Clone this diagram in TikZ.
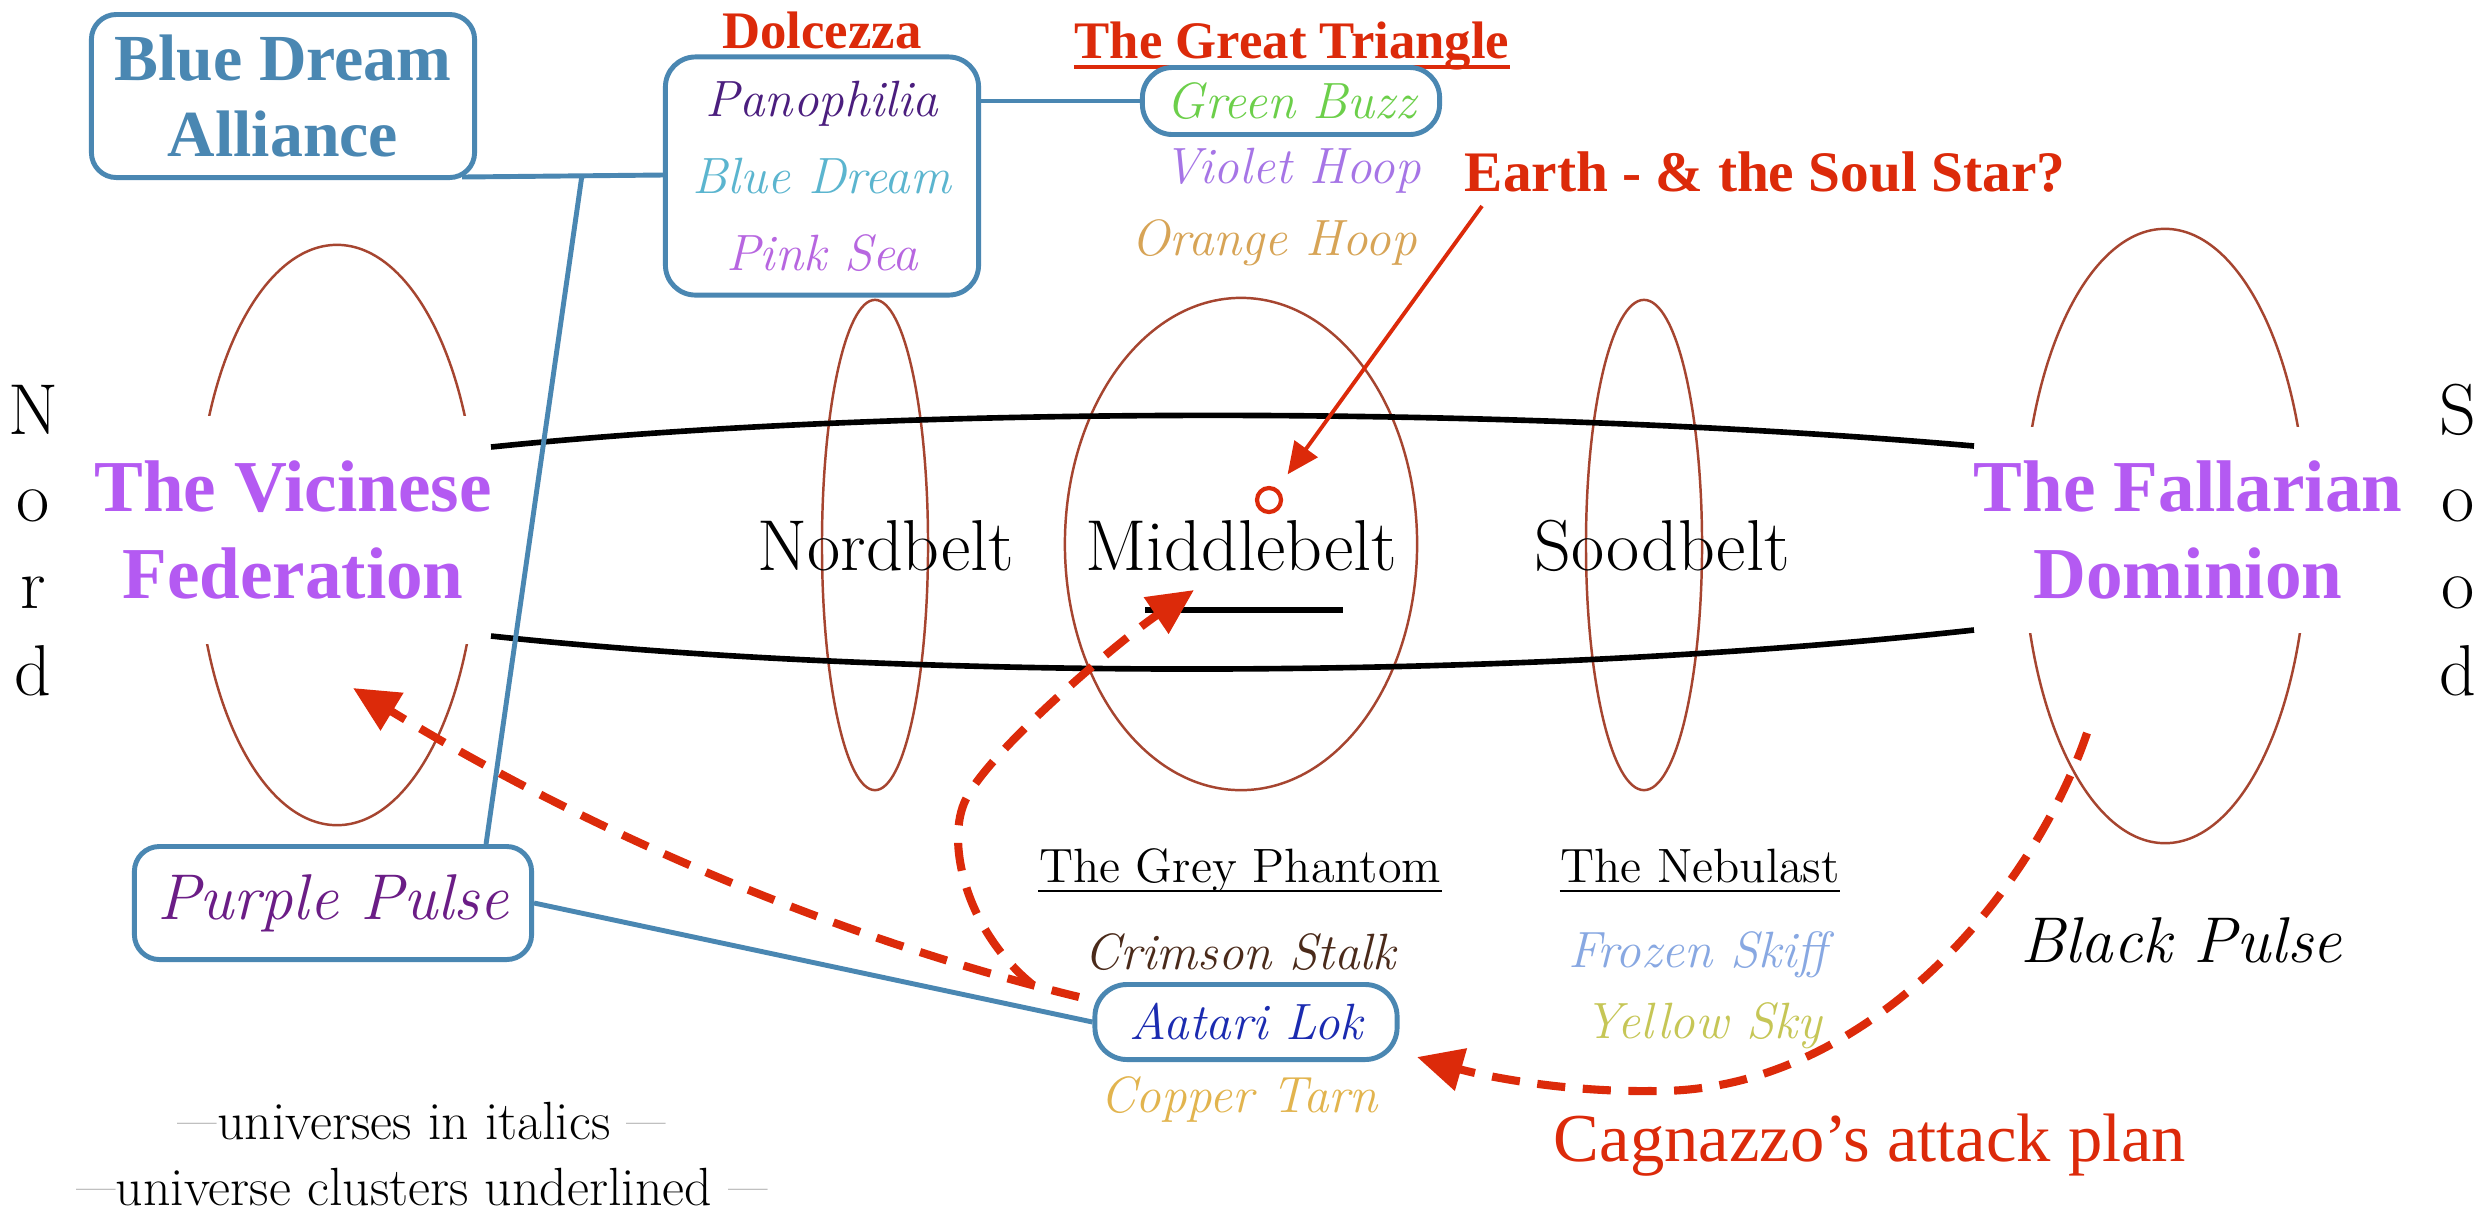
\documentclass[tikz,border=0pt]{standalone}
\usepackage{fontspec}
\newfontfamily\tnr{Liberation Serif}
\usetikzlibrary{arrows.meta}
\definecolor{redA}{HTML}{DC2A0A}
\definecolor{boxblue}{HTML}{4A87B2}
\definecolor{ellc}{HTML}{A64530}
\definecolor{vio}{HTML}{B45AF2}
\definecolor{panoc}{HTML}{4B1E7E}
\definecolor{bluedc}{HTML}{5BB5CF}
\definecolor{pinkc}{HTML}{B766E0}
\definecolor{greenc}{HTML}{6CCF4A}
\definecolor{violetc}{HTML}{A675E6}
\definecolor{orangec}{HTML}{D7A456}
\definecolor{purplec}{HTML}{6B1D86}
\definecolor{crimc}{HTML}{4A2A1A}
\definecolor{aatc}{HTML}{1B2BB0}
\definecolor{copc}{HTML}{E2B44E}
\definecolor{frozc}{HTML}{88A8E2}
\definecolor{yelc}{HTML}{C6C656}
\newcommand\legdash{\textcolor{gray!75}{\raisebox{1.2pt}{\fontsize{11.5}{12}\selectfont —}}}
\tikzset{
  ell/.style={draw=ellc, line width=0.7pt},
  belt/.style={draw=black, line width=1.6pt},
  lbl/.style={inner sep=0pt, anchor=base},
  uni/.style={lbl, font=\fontsize{14.5}{17}\selectfont\itshape},
  bigitalic/.style={lbl, font=\fontsize{18.4}{21}\selectfont\itshape},
  beltlbl/.style={lbl, font=\fontsize{20.5}{24}\selectfont},
  cluster/.style={lbl, font=\fontsize{13.7}{16}\selectfont},
  redtitle/.style={lbl, text=redA, font=\tnr\bfseries\fontsize{15}{18}\selectfont},
  nation/.style={fill=white, inner sep=0pt, align=center, text=vio, font=\tnr\bfseries\fontsize{20.8}{24.5}\selectfont},
  bx/.style={draw=boxblue, line width=1.4pt, fill=white, inner sep=0pt, align=center},
  conn/.style={draw=boxblue, line width=1.4pt},
  atk/.style={draw=redA, line width=2.3pt, dash pattern=on 8pt off 5pt, -{Triangle[length=13pt,width=12pt]}},
  legend/.style={lbl, font=\fontsize{15.3}{18}\selectfont}
}
\begin{document}
\begin{tikzpicture}[x=0.01cm,y=-0.01cm]
\useasboundingbox (0,0) rectangle (2488,1220);
\fill[white] (0,0) rectangle (2488,1220);

% ellipses
\draw[ell] (337,535) ellipse [x radius=1.40cm, y radius=2.90cm];
\draw[ell] (875,545) ellipse [x radius=0.53cm, y radius=2.45cm];
\draw[ell] (1241,544) ellipse [x radius=1.76cm, y radius=2.46cm];
\draw[ell] (1644,545) ellipse [x radius=0.58cm, y radius=2.45cm];
\draw[ell] (2165,536) ellipse [x radius=1.42cm, y radius=3.07cm];

% nations
\node[nation, minimum width=4.0cm, minimum height=2.28cm] (vic) at (293,530) {The Vicinese\\Federation};
\node[nation, minimum width=4.33cm, minimum height=2.05cm] (fal) at (2188,530) {The Fallarian\\Dominion};

% belt lines
\draw[belt] (491,447) .. controls (900,405) and (1500,405) .. (1974,446);
\draw[belt] (491,636) .. controls (900,680) and (1500,682) .. (1974,630);

% belt labels
\node[beltlbl] (nordbelt) at (886,570) {Nordbelt};
\node[beltlbl] (middlebelt) at (1241,570) {Middlebelt};
\node[beltlbl] (soodbelt) at (1662,570) {Soodbelt};
\draw[black, line width=1.6pt] (1145,610) -- (1343,610);

% Nord / Sood
\foreach \ch/\yy [count=\i] in {N/434,o/521,r/608,d/695}
  \node[beltlbl] (nord\i) at (33,\yy) {\ch};
\foreach \ch/\yy [count=\i] in {S/434,o/521,o/608,d/695}
  \node[beltlbl] (sood\i) at (2458,\yy) {\ch};

% Earth
\node[circle, draw=redA, line width=1.2pt, minimum size=0.24cm, inner sep=0pt] (earth) at (1269,500) {};
\node[lbl, text=redA, font=\tnr\bfseries\fontsize{16.3}{19}\selectfont] (earthlbl) at (1765,191) {Earth - \& the Soul Star?};
\coordinate (earthfrom) at (1482,206);
\draw[redA, line width=1.1pt, -{Triangle[length=9pt,width=8pt]}, shorten >=5pt] (earthfrom) -- (earth);

% Blue Dream Alliance
\node[bx, rounded corners=0.25cm, minimum width=3.83cm, minimum height=1.63cm, text=boxblue, font=\tnr\bfseries\fontsize{18.7}{21.6}\selectfont] (bda) at (283,96) {Blue Dream\\Alliance};

% Dolcezza
\node[redtitle] (doltitle) at (822,48) {Dolcezza};
\draw[redA, line width=1.1pt] ([yshift=-2.5pt]doltitle.base west) -- ([yshift=-2.5pt]doltitle.base east);
\node[bx, rounded corners=0.3cm, minimum width=3.13cm, minimum height=2.38cm, font=\fontsize{14.5}{21.9}\selectfont\itshape] (dol) at (822,176) {\textcolor{panoc}{Panophilia}\\\textcolor{bluedc}{Blue Dream}\\\textcolor{pinkc}{Pink Sea}};

% Great Triangle
\node[redtitle] (gttitle) at (1292,58) {The Great Triangle};
\draw[redA, line width=1.1pt] ([yshift=-2.5pt]gttitle.base west) -- ([yshift=-2.5pt]gttitle.base east);
\node[bx, rounded corners=0.3cm, minimum width=2.97cm, minimum height=0.67cm, text=greenc, font=\fontsize{14.5}{17}\selectfont\itshape] (gb) at (1291,101) {Green Buzz};
\node[uni, text=violetc] (vh) at (1292,183) {Violet Hoop};
\node[uni, text=orangec] (oh) at (1274,255) {Orange Hoop};

% Purple Pulse
\node[bx, rounded corners=0.25cm, minimum width=3.97cm, minimum height=1.13cm, text=purplec, font=\fontsize{18.4}{21}\selectfont\itshape] (pp) at (333,903) {Purple Pulse};

% Grey Phantom cluster
\node[cluster] (gp) at (1240,882) {The Grey Phantom};
\draw[black, line width=0.7pt] ([yshift=-2.5pt]gp.base west) -- ([yshift=-2.5pt]gp.base east);
\node[uni, text=crimc] (cs) at (1240,969) {Crimson Stalk};
\node[bx, rounded corners=0.32cm, minimum width=3.02cm, minimum height=0.75cm, text=aatc, font=\fontsize{14.5}{17}\selectfont\itshape] (aat) at (1246,1022) {Aatari Lok};
\node[uni, text=copc] (ct) at (1239,1112) {Copper Tarn};

% Nebulast cluster
\node[cluster] (neb) at (1700,882) {The Nebulast};
\draw[black, line width=0.7pt] ([yshift=-2.5pt]neb.base west) -- ([yshift=-2.5pt]neb.base east);
\node[uni, text=frozc] (fs) at (1698,967) {Frozen Skiff};
\node[uni, text=yelc] (ys) at (1703,1038) {Yellow Sky};

\node[bigitalic] (bp) at (2181,962) {Black Pulse};

\node[lbl, text=redA, font=\tnr\fontsize{19.5}{23}\selectfont] (cag) at (1870,1161) {Cagnazzo’s attack plan};

% legend
\node[legend] (leg1) at (422,1139) {\legdash universes in italics \legdash};
\node[legend] (leg2) at (422,1205) {\legdash universe clusters underlined \legdash};

% blue connectors
\coordinate (jn) at (582,175);
\draw[conn] (bda.south east) ++(-15,-3) -- (dol.west |- jn);
\draw[conn] (jn) -- ([xshift=-0.48cm]pp.north east);
\draw[conn] (dol.east |- gb) -- (gb.west);
\draw[conn] (pp.east) -- (aat.west);

% attack arrows
\coordinate (a1s) at (1079,997);
\coordinate (vtgt) at (353,688);
\draw[atk] (a1s) .. controls (837,938) and (595,835) .. (vtgt);
\coordinate (a2s) at (1033,985);
\coordinate (mtgt) at (1194,590);
\draw[atk] (a2s) .. controls (965,930) and (945,840) .. (966,799) .. controls (990,750) and (1120,640) .. (mtgt);
\coordinate (a3s) at (2087,733);
\coordinate (atgt) at (1417,1057);
\draw[atk] (a3s) .. controls (2030,900) and (1860,1095) .. (1650,1091) .. controls (1560,1092) and (1480,1075) .. (atgt);
\end{tikzpicture}
\end{document}
